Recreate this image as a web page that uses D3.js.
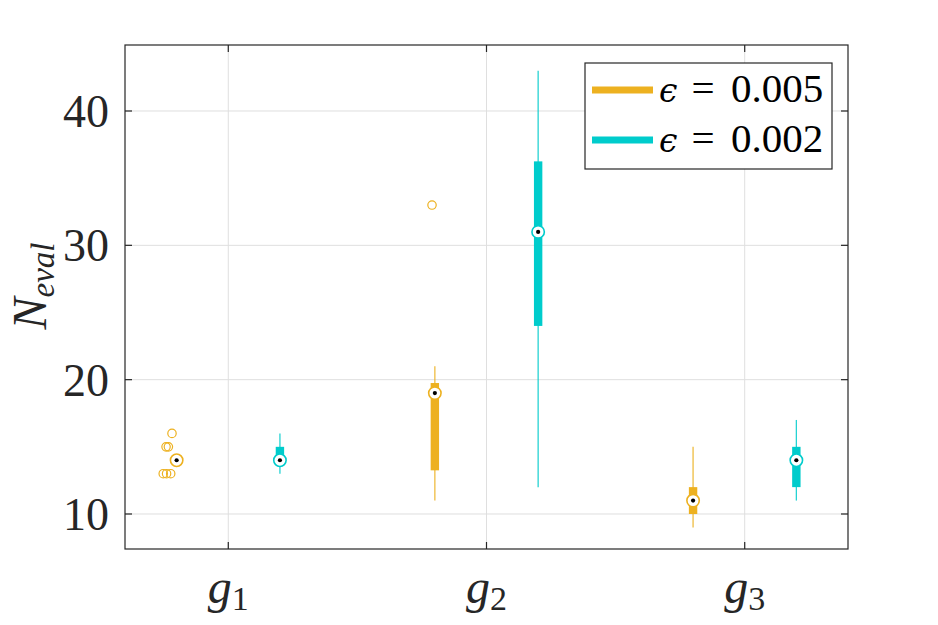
<!DOCTYPE html>
<html><head><meta charset="utf-8">
<script src="https://cdn.jsdelivr.net/npm/d3@7"></script>
<style>body{margin:0;background:#fff}svg{display:block}</style>
</head><body>
<svg id="c" width="938" height="625"></svg>
<script>
// ---- data ----
const groups = ["1","2","3"];            // subscripts of g
const seriesLabels = ["0.005","0.002"];
const seriesColors = ["#EDB120","#00CCCC"];
const seriesOffset = [-0.2, 0.2];
// orange (eps = 0.005)
const orangeLow    = [14, 11, 9];
const orangeQ1     = [14, 13.25, 10];
const orangeMedian = [14, 19, 11];
const orangeQ3     = [14, 19.75, 12];
const orangeHigh   = [14, 21, 15];
// cyan (eps = 0.002)
const cyanLow    = [13, 12, 11];
const cyanQ1     = [14, 24, 12];
const cyanMedian = [14, 31, 14];
const cyanQ3     = [15, 36.25, 15];
const cyanHigh   = [16, 43, 17];
// outliers (series 0): group index, jitter, value
const outlierGroup  = [0, 0, 0, 0, 0, 0, 1];
const outlierJitter = [-0.052, -0.039, -0.023, -0.041, -0.032, -0.018, -0.011];
const outlierValue  = [13, 13, 13, 15, 15, 16, 33];
const yTicks = [10, 20, 30, 40];

const stats = [
  {low: orangeLow, q1: orangeQ1, med: orangeMedian, q3: orangeQ3, high: orangeHigh},
  {low: cyanLow, q1: cyanQ1, med: cyanMedian, q3: cyanQ3, high: cyanHigh}
];

// ---- layout ----
const L = 125, R = 848, T = 45, B = 549;
const svg = d3.select("#c");
const x = d3.scaleLinear().domain([0.6, 3.4]).range([L, R]);
const y = d3.scaleLinear().domain([7.394, 44.913]).range([B, T]);
const axisCol = "#262626";
const serif = "'Liberation Serif','DejaVu Serif',serif";

// grid
const grid = svg.append("g");
grid.selectAll(".gx").data(groups).enter().append("line")
  .attr("x1", (d,i)=>x(i+1)).attr("x2", (d,i)=>x(i+1))
  .attr("y1", T).attr("y2", B).attr("stroke", "#dfdfdf").attr("stroke-width", 1);
grid.selectAll(".gy").data(yTicks).enter().append("line")
  .attr("y1", d=>y(d)).attr("y2", d=>y(d))
  .attr("x1", L).attr("x2", R).attr("stroke", "#dfdfdf").attr("stroke-width", 1);

// boxes
const bw = 8.4;
stats.forEach((s, si) => {
  const col = seriesColors[si];
  const g = svg.append("g");
  groups.forEach((gname, gi) => {
    const cx = x(gi + 1 + seriesOffset[si]);
    g.append("line").attr("x1", cx).attr("x2", cx)
      .attr("y1", y(s.low[gi])).attr("y2", y(s.high[gi]))
      .attr("stroke", col).attr("stroke-width", 1.3).attr("opacity", 0.85);
    const h = Math.max(y(s.q1[gi]) - y(s.q3[gi]), 0);
    if (h > 0) {
      g.append("rect").attr("x", cx - bw/2).attr("width", bw)
        .attr("y", y(s.q3[gi])).attr("height", h).attr("fill", col);
    }
  });
});

// outliers
svg.append("g").selectAll("circle").data(outlierValue).enter().append("circle")
  .attr("cx", (d,i)=>x(outlierGroup[i] + 1 + seriesOffset[0] + outlierJitter[i]))
  .attr("cy", d=>y(d)).attr("r", 4.2)
  .attr("fill", "none").attr("stroke", seriesColors[0]).attr("stroke-width", 1.2);

// medians
stats.forEach((s, si) => {
  const col = seriesColors[si];
  groups.forEach((gname, gi) => {
    const cx = x(gi + 1 + seriesOffset[si]), cy = y(s.med[gi]);
    svg.append("circle").attr("cx", cx).attr("cy", cy).attr("r", 6.2)
      .attr("fill", "#fff").attr("stroke", col).attr("stroke-width", 1.6);
    svg.append("circle").attr("cx", cx).attr("cy", cy).attr("r", 2.1).attr("fill", "#000");
  });
});

// axes frame and ticks
const ax = svg.append("g").attr("stroke", axisCol).attr("stroke-width", 1.2);
ax.append("rect").attr("x", L).attr("y", T).attr("width", R-L).attr("height", B-T).attr("fill", "none");
const tl = 7;
groups.forEach((g, i) => {
  const px = x(i+1);
  ax.append("line").attr("x1", px).attr("x2", px).attr("y1", B).attr("y2", B-tl);
  ax.append("line").attr("x1", px).attr("x2", px).attr("y1", T).attr("y2", T+tl);
});
yTicks.forEach(v => {
  const py = y(v);
  ax.append("line").attr("y1", py).attr("y2", py).attr("x1", L).attr("x2", L+tl);
  ax.append("line").attr("y1", py).attr("y2", py).attr("x1", R).attr("x2", R-tl);
});

// y tick labels
svg.append("g").selectAll("text").data(yTicks).enter().append("text")
  .attr("x", 109).attr("y", d=>y(d)+16)
  .attr("text-anchor", "end").attr("font-family", serif).attr("font-size", 46)
  .attr("fill", axisCol).text(d=>d);

// x tick labels
const xl = svg.append("g");
groups.forEach((g, i) => {
  const t = xl.append("text").attr("x", x(i+1)).attr("y", 603)
    .attr("text-anchor", "middle").attr("font-family", serif).attr("fill", axisCol);
  t.append("tspan").attr("font-style", "italic").attr("font-size", 48).text("g");
  t.append("tspan").attr("font-size", 34).attr("dy", 7).text(g);
});

// y label
const yl = svg.append("text").attr("transform", "translate(46,286) rotate(-90)")
  .attr("text-anchor", "middle").attr("font-family", serif).attr("fill", axisCol);
yl.append("tspan").attr("font-style", "italic").attr("font-size", 48).text("N");
yl.append("tspan").attr("font-style", "italic").attr("font-size", 33).attr("dy", 8).text("eval");

// legend
const lg = svg.append("g");
lg.append("rect").attr("x", 585).attr("y", 63).attr("width", 247).attr("height", 106)
  .attr("fill", "#fff").attr("stroke", axisCol).attr("stroke-width", 1.2);
seriesLabels.forEach((lab, i) => {
  const ly = 90 + i*50;
  lg.append("line").attr("x1", 592).attr("x2", 653).attr("y1", ly).attr("y2", ly)
    .attr("stroke", seriesColors[i]).attr("stroke-width", 7);
  lg.append("text").attr("x", 659).attr("y", ly + 12)
    .attr("font-family", "'DejaVu Serif',serif").attr("font-style", "italic")
    .attr("font-size", 33).attr("fill", "#000").text("\u03F5");
  lg.append("text").attr("x", 703).attr("y", ly + 12).attr("text-anchor", "middle")
    .attr("font-family", serif).attr("font-size", 41).attr("fill", "#000").text("=");
  lg.append("text").attr("x", 731).attr("y", ly + 12)
    .attr("font-family", serif).attr("font-size", 41).attr("fill", "#000").text(lab);
});
</script>
</body></html>
